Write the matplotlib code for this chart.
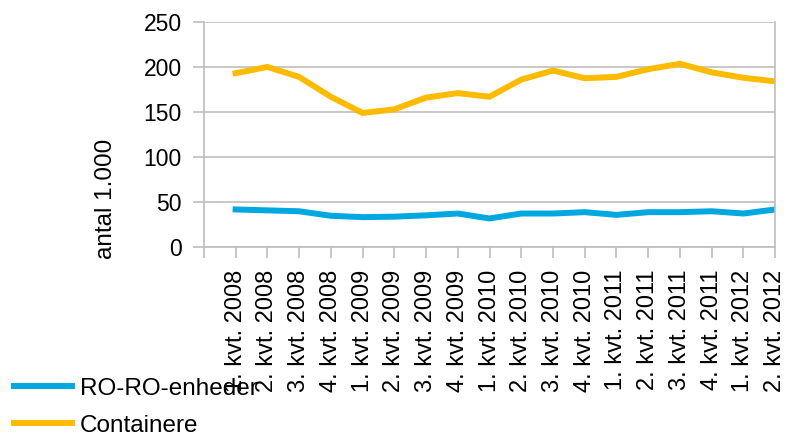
import numpy as np
import matplotlib
matplotlib.use('Agg')
import matplotlib.pyplot as plt

plt.rcParams['font.family'] = ['Liberation Sans', 'DejaVu Sans']

# data (antal 1.000)
kvartaler = ['1. kvt. 2008', '2. kvt. 2008', '3. kvt. 2008', '4. kvt. 2008',
             '1. kvt. 2009', '2. kvt. 2009', '3. kvt. 2009', '4. kvt. 2009',
             '1. kvt. 2010', '2. kvt. 2010', '3. kvt. 2010', '4. kvt. 2010',
             '1. kvt. 2011', '2. kvt. 2011', '3. kvt. 2011', '4. kvt. 2011',
             '1. kvt. 2012', '2. kvt. 2012']
roro = [42, 41, 40, 35, 33.5, 34, 35.5, 37.5, 32, 37.5, 37.5, 39, 36, 39, 39, 40, 37.5, 42]
containere = [193, 200, 189, 167, 149, 153, 166, 171, 167, 186, 196, 187.5, 189, 197.5, 203.5, 194, 188, 184]

blue = '#00A8DF'
yellow = '#FDBB00'
grey = '#BEBEBE'

fig = plt.figure(figsize=(7.87, 4.37), dpi=100)
ax = fig.add_axes([0.259, 0.434, 0.726, 0.516])

x = np.arange(1, len(kvartaler) + 1)
ax.plot(x, roro, color=blue, lw=4.3, label='RO-RO-enheder', solid_joinstyle='miter')
ax.plot(x, containere, color=yellow, lw=4.3, label='Containere', solid_joinstyle='miter')

ax.set_xlim(0, len(kvartaler))
ax.set_ylim(0, 250)
ax.set_yticks(np.arange(0, 251, 50))
ax.set_xticks(np.arange(0, len(kvartaler) + 1))
ax.set_xticklabels([''] + kvartaler, rotation=90, fontsize=17)
ax.tick_params(axis='y', labelsize=16.5, length=8, color=grey, width=1.2, pad=8)
ax.tick_params(axis='x', length=8, color=grey, width=1.2, pad=8)
ax.yaxis.grid(True, color=grey, lw=1.2)
ax.set_axisbelow(True)
for s in ['left', 'bottom', 'right']:
    ax.spines[s].set_color(grey)
    ax.spines[s].set_linewidth(1.2)
ax.spines['top'].set_visible(False)
ax.set_ylabel('antal 1.000', fontsize=17.5)
ax.yaxis.set_label_coords(-0.152, 0.215)

fig.legend(loc='lower left', bbox_to_anchor=(0.008, -0.016), frameon=False, fontsize=17.5,
           handlelength=2.4, handletextpad=0.33, labelspacing=0.62, borderaxespad=0.0,
           borderpad=0.3)

fig.savefig('out.png', dpi=100)
